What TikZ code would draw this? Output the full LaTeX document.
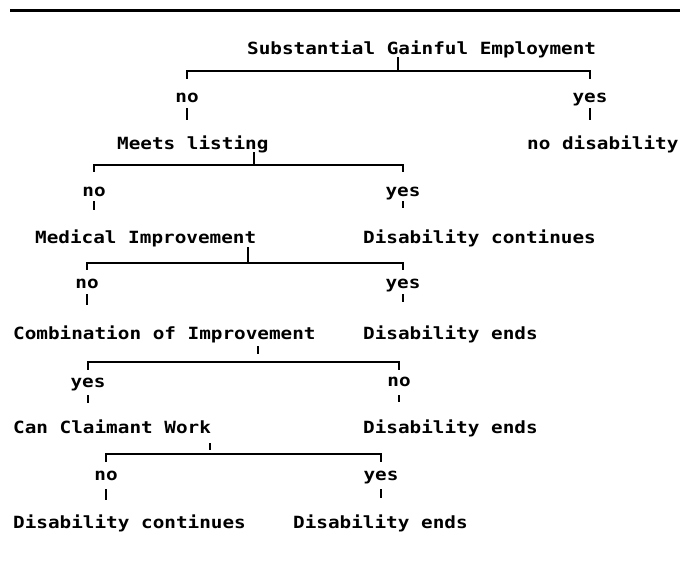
\documentclass[tikz,border=0pt]{standalone}
\usepackage{fontspec}
\newfontfamily\diagfont[FakeStretch=1.15]{DejaVu Sans Mono}
\begin{document}
\begin{tikzpicture}[x=1pt,y=-1pt,
  txt/.style={inner sep=0pt,font=\diagfont\bfseries\fontsize{16.8}{20}\selectfont},
  decision/.style={txt,anchor=base west,text height=12pt,text depth=0pt},
  outcome/.style={txt,anchor=base west,text height=12pt,text depth=0pt},
  answer/.style={txt,anchor=base,text height=8pt,text depth=0pt},
  conn/.style={line width=2pt},
  rule/.style={line width=3pt}]
\useasboundingbox (0,0) rectangle (680,570);
\draw[rule] (10,10) -- (680,10);

% level 0
\node[decision] (sge) at (247,54) {Substantial Gainful Employment};
\coordinate (b0) at (398,71);
\node[answer] (no0) at (187,102) {no};
\node[answer] (yes0) at (590,102) {yes};
\node[decision] (meets) at (117,149) {Meets listing};
\node[outcome] (nodis) at (527,149) {no disability};
\draw[conn,shorten <=3pt] (sge.south -| b0) -- (b0);
\draw[conn,shorten <=15pt,shorten >=15pt] (no0.north) |- (b0) -| (yes0.north);
\draw[conn,shorten <=6pt,shorten >=17pt] (no0.south) -- (no0.south |- meets.north);
\draw[conn,shorten <=6pt,shorten >=17pt] (yes0.south) -- (yes0.south |- nodis.north);

% level 1
\coordinate (b1) at (254,165);
\node[answer] (no1) at (94,196) {no};
\node[answer] (yes1) at (403,196) {yes};
\node[decision] (medical) at (35,243) {Medical Improvement};
\node[outcome] (dcont1) at (363,243) {Disability continues};
\draw[conn,shorten <=3pt] (meets.south -| b1) -- (b1);
\draw[conn,shorten <=16pt,shorten >=16pt] (no1.north) |- (b1) -| (yes1.north);
\draw[conn,shorten <=5pt,shorten >=21pt] (no1.south) -- (no1.south |- medical.north);
\draw[conn,shorten <=5pt,shorten >=23pt] (yes1.south) -- (yes1.south |- dcont1.north);

% level 2
\coordinate (b2) at (248,263);
\node[answer] (no2) at (87,288) {no};
\node[answer] (yes2) at (403,288) {yes};
\node[decision] (comb) at (13,339) {Combination of Improvement};
\node[outcome] (dend2) at (363,339) {Disability ends};
\draw[conn,shorten <=4pt] (medical.south -| b2) -- (b2);
\draw[conn,shorten <=10pt,shorten >=10pt] (no2.north) |- (b2) -| (yes2.north);
\draw[conn,shorten <=6pt,shorten >=22pt] (no2.south) -- (no2.south |- comb.north);
\draw[conn,shorten <=6pt,shorten >=25pt] (yes2.south) -- (yes2.south |- dend2.north);

% level 3
\coordinate (b3) at (258,362);
\node[answer] (yes3) at (88,387) {yes};
\node[answer] (no3) at (399,386) {no};
\node[decision] (can) at (13,433) {Can Claimant Work};
\node[outcome] (dend3) at (363,433) {Disability ends};
\draw[conn,shorten <=7pt,shorten >=8pt] (comb.south -| b3) -- (b3);
\draw[conn,shorten <=9pt,shorten >=8pt] (yes3.north) |- (b3) -| (no3.north);
\draw[conn,shorten <=8pt,shorten >=18pt] (yes3.south) -- (yes3.south |- can.north);
\draw[conn,shorten <=9pt,shorten >=19pt] (no3.south) -- (no3.south |- dend3.north);

% level 4
\coordinate (b4) at (210,454);
\node[answer] (no4) at (106,480) {no};
\node[answer] (yes4) at (381,480) {yes};
\node[outcome] (dcont4) at (13,528) {Disability continues};
\node[outcome] (dend4) at (293,528) {Disability ends};
\draw[conn,shorten <=10pt,shorten >=4pt] (can.south -| b4) -- (b4);
\draw[conn,shorten <=10pt,shorten >=10pt] (no4.north) |- (b4) -| (yes4.north);
\draw[conn,shorten <=9pt,shorten >=16pt] (no4.south) -- (no4.south |- dcont4.north);
\draw[conn,shorten <=9pt,shorten >=18pt] (yes4.south) -- (yes4.south |- dend4.north);
\end{tikzpicture}
\end{document}
